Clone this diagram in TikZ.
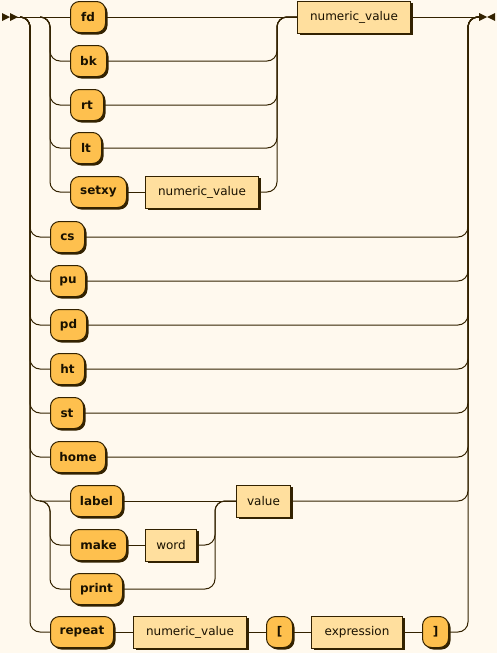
\documentclass[tikz,border=0pt]{standalone}
\usepackage{fontspec}
\setmainfont{DejaVu Sans}
\usetikzlibrary{shadows}
\definecolor{bgc}{HTML}{FFF9EE}
\definecolor{termc}{HTML}{FEC04E}
\definecolor{ntermc}{HTML}{FFDF9E}
\definecolor{lnc}{HTML}{332200}
\tikzset{
  shad/.style={drop shadow={shadow xshift=2pt, shadow yshift=-2pt, fill=lnc, opacity=1}},
  termbox/.style={shad, draw=lnc, fill=termc, rounded corners=9pt, line width=1pt,
    minimum height=31pt, inner sep=0pt, anchor=west,
    font=\fontsize{12}{14}\selectfont\bfseries, text=lnc!50!black},
  ntermbox/.style={shad, draw=lnc, fill=ntermc, line width=1pt,
    minimum height=32pt, inner sep=0pt, anchor=west,
    font=\fontsize{12}{14}\selectfont, text=lnc!50!black},
  rail/.style={draw=lnc, line width=1pt, rounded corners=10pt},
}
\begin{document}
\begin{tikzpicture}[x=1pt,y=-1pt]
\fill[bgc] (0,0) rectangle (497,653);
\useasboundingbox (0,0) rectangle (497,653);
% start / end markers
\fill[lnc] (2,13) -- (10,17) -- (2,21) -- cycle (10,13) -- (18,17) -- (10,21) -- cycle;
\fill[lnc] (479,13) -- (487,17) -- (479,21) -- cycle (495,13) -- (487,17) -- (495,21) -- cycle;
\coordinate (start) at (17,17);
\coordinate (end) at (479,17);
% nodes
\node[termbox, minimum width=35pt] (fd) at (70,17) {fd};
\node[termbox, minimum width=36pt] (bk) at (70,61) {bk};
\node[termbox, minimum width=33pt] (rt) at (70,105) {rt};
\node[termbox, minimum width=31pt] (lt) at (70,148) {lt};
\node[termbox, minimum width=56pt] (setxy) at (70,192) {setxy};
\node[ntermbox, minimum width=113pt] (nv2) at (145,192) {numeric\_value};
\node[ntermbox, minimum width=113pt] (nv1) at (297,17) {numeric\_value};
\node[termbox, minimum width=34pt] (cs) at (50,237) {cs};
\node[termbox, minimum width=35pt] (pu) at (50,281) {pu};
\node[termbox, minimum width=36pt] (pd) at (50,325) {pd};
\node[termbox, minimum width=34pt] (ht) at (50,369) {ht};
\node[termbox, minimum width=33pt] (st) at (50,413) {st};
\node[termbox, minimum width=55pt] (home) at (50,457) {home};
\node[termbox, minimum width=52pt] (label) at (70,501) {label};
\node[termbox, minimum width=56pt] (make) at (70,545) {make};
\node[ntermbox, minimum width=51pt] (word) at (145,545) {word};
\node[termbox, minimum width=52pt] (print) at (70,589) {print};
\node[ntermbox, minimum width=54pt] (value) at (236,501) {value};
\node[termbox, minimum width=63pt] (repeat) at (50,632) {repeat};
\node[ntermbox, minimum width=113pt] (nv3) at (133,632) {numeric\_value};
\node[termbox, minimum width=26pt] (lb) at (266,632) {[};
\node[ntermbox, minimum width=91pt] (expr) at (311,632) {expression};
\node[termbox, minimum width=26pt] (rb) at (422,632) {]};
% main line
\draw[rail] (start) -- (fd.west);
\draw[rail] (fd.east) -- (nv1.west);
\draw[rail] (nv1.east) -- (end);
% inner left bus
\foreach \n in {bk,rt,lt,setxy} \draw[rail] (40,17) -- (50,17) |- (\n.west);
% outer left bus
\foreach \n in {cs,pu,pd,ht,st,home,label,repeat} \draw[rail] (20,17) -- (30,17) |- (\n.west);
% inner right bus
\foreach \n in {bk,rt,lt,nv2} \draw[rail] (\n.east) -| (277,17) -- (nv1.west);
\draw[rail] (setxy.east) -- (nv2.west);
% outer right bus
\foreach \n in {cs,pu,pd,ht,st,home,value,rb} \draw[rail] (\n.east) -| (468,17) -- (end);
% label group
\foreach \n in {make,print} \draw[rail] (40,501) -- (50,501) |- (\n.west);
\draw[rail] (label.east) -- (value.west);
\draw[rail] (make.east) -- (word.west);
\draw[rail] (word.east) -| (215,501) -- (value.west);
\draw[rail] (print.east) -| (215,501) -- (value.west);
% repeat chain
\draw[rail] (repeat.east) -- (nv3.west);
\draw[rail] (nv3.east) -- (lb.west);
\draw[rail] (lb.east) -- (expr.west);
\draw[rail] (expr.east) -- (rb.west);
\end{tikzpicture}
\end{document}
